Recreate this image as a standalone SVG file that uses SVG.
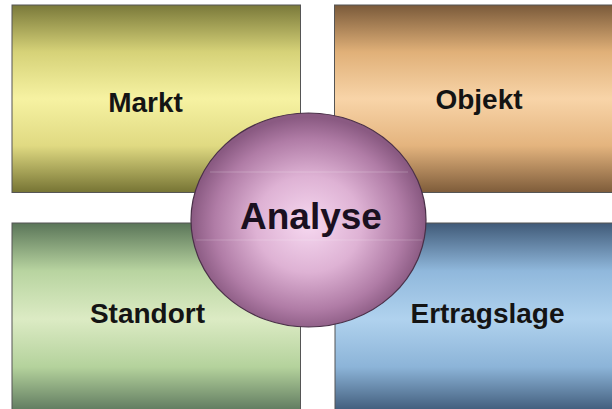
<svg xmlns="http://www.w3.org/2000/svg" width="612" height="409" viewBox="0 0 612 409">
  <defs>
    <linearGradient id="gMarkt" x1="0" y1="0" x2="0" y2="1">
      <stop offset="0" stop-color="#7a793a"/>
      <stop offset="0.25" stop-color="#d6d278"/>
      <stop offset="0.5" stop-color="#f6f2a2"/>
      <stop offset="0.75" stop-color="#e0da82"/>
      <stop offset="1" stop-color="#767434"/>
    </linearGradient>
    <linearGradient id="gObjekt" x1="0" y1="0" x2="0" y2="1">
      <stop offset="0" stop-color="#7a5a3a"/>
      <stop offset="0.25" stop-color="#e0b078"/>
      <stop offset="0.5" stop-color="#f8d4a8"/>
      <stop offset="0.75" stop-color="#e4b47e"/>
      <stop offset="1" stop-color="#7e5c3a"/>
    </linearGradient>
    <linearGradient id="gStandort" x1="0" y1="0" x2="0" y2="1">
      <stop offset="0" stop-color="#5a7558"/>
      <stop offset="0.25" stop-color="#b8d4a0"/>
      <stop offset="0.5" stop-color="#dcebc4"/>
      <stop offset="0.75" stop-color="#b4d29c"/>
      <stop offset="1" stop-color="#58725a"/>
    </linearGradient>
    <linearGradient id="gErtrag" x1="0" y1="0" x2="0" y2="1">
      <stop offset="0" stop-color="#405a78"/>
      <stop offset="0.25" stop-color="#90b8dc"/>
      <stop offset="0.5" stop-color="#b0d2ee"/>
      <stop offset="0.75" stop-color="#8cb4d8"/>
      <stop offset="1" stop-color="#3a5472"/>
    </linearGradient>
    <radialGradient id="gAnalyse" cx="0.5" cy="0.52" r="0.5">
      <stop offset="0" stop-color="#f6d8f0"/>
      <stop offset="0.45" stop-color="#deb2d4"/>
      <stop offset="0.8" stop-color="#b07ca6"/>
      <stop offset="1" stop-color="#8a5a82"/>
    </radialGradient>
  </defs>
  <style>
    .box { stroke: #555; stroke-width: 1; }
    .lbl { font-family: "Liberation Sans", Arial, sans-serif; font-weight: bold; font-size: 28px; fill: #141414; text-anchor: middle; }
    .big { font-size: 37px; fill: #1a1020; }
  </style>
  <rect x="0" y="0" width="612" height="409" fill="#ffffff"/>
  <g id="connectors"></g>
  <g id="markt">
    <rect class="box" x="12" y="5" width="288.5" height="187.5" fill="url(#gMarkt)"/>
    <text class="lbl" x="145.5" y="112">Markt</text>
  </g>
  <g id="objekt">
    <rect class="box" x="334.5" y="5" width="290" height="187.5" fill="url(#gObjekt)"/>
    <text class="lbl" x="479" y="109">Objekt</text>
  </g>
  <g id="standort">
    <rect class="box" x="12" y="223" width="288.5" height="192" fill="url(#gStandort)"/>
    <text class="lbl" x="147.5" y="323">Standort</text>
  </g>
  <g id="ertragslage">
    <rect class="box" x="335" y="223" width="290" height="192" fill="url(#gErtrag)"/>
    <text class="lbl" x="487.5" y="323">Ertragslage</text>
  </g>
  <g id="analyse">
    <ellipse cx="308.5" cy="220" rx="117.5" ry="107" fill="url(#gAnalyse)" stroke="#4a3048" stroke-width="1.2"/>
    <line x1="210" y1="172" x2="408" y2="172" stroke="#ffffff" stroke-opacity="0.22" stroke-width="1"/>
    <line x1="196" y1="240" x2="422" y2="240" stroke="#ffffff" stroke-opacity="0.2" stroke-width="1"/>
    <text class="lbl big" x="311" y="228.5">Analyse</text>
  </g>
</svg>
